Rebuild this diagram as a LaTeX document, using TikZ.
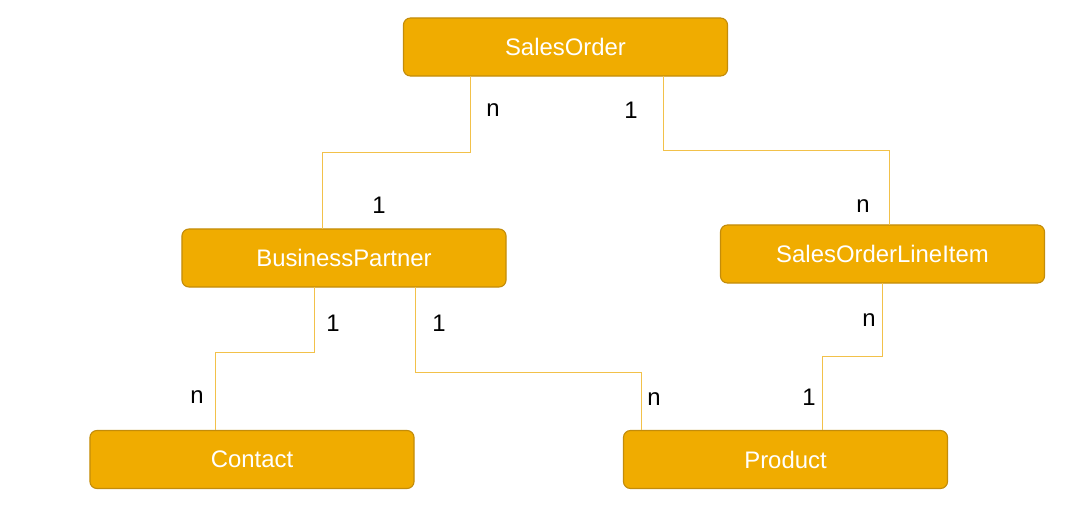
\documentclass[tikz,border=0pt]{standalone}
\usepackage{fontspec}
\setmainfont{Liberation Sans}
\usetikzlibrary{calc}
\definecolor{entityfill}{HTML}{F0AC00}
\definecolor{entityline}{HTML}{C38C0A}
\definecolor{linkline}{HTML}{F2C14A}
\tikzset{
	entity/.style={
		draw=entityline, fill=entityfill, rounded corners=5pt, line width=0.8pt,
		minimum width=8.1cm, minimum height=1.45cm, text=white, font=\fontsize{17}{20}\selectfont
	},
	card/.style={font=\fontsize{17}{20}\selectfont, text=black},
	zig zag to/.style={
		to path={(\tikztostart) |- ($(\tikztostart)!#1!(\tikztotarget)$) -| (\tikztotarget)}
	},
	zig zag to/.default=0.5,
	link/.style={draw=linkline, line width=0.7pt, zig zag to=#1},
	link/.default=0.5
}
\begin{document}
\begin{tikzpicture}[x=0.025cm, y=-0.025cm]
	\useasboundingbox (0,0) rectangle (1084,514);

	\node[entity] (SalesOrder) at (565.5,47) {SalesOrder};
	\node[entity] (BusinessPartner) at (344,258) {BusinessPartner};
	\node[entity] (SalesOrderLineItem) at (882.5,254) {SalesOrderLineItem};
	\node[entity] (Contact) at (252,459.5) {Contact};
	\node[entity] (Product) at (785.5,459.5) {Product};

	% end points on the boxes
	\coordinate (SalesOrder-n) at (470,76);
	\coordinate (SalesOrder-1) at (663,76);
	\coordinate (BusinessPartner-top) at (322,229);
	\coordinate (BusinessPartner-c) at (314,287);
	\coordinate (BusinessPartner-p) at (415,287);
	\coordinate (SalesOrderLineItem-top) at (889,225);
	\coordinate (SalesOrderLineItem-p) at (882,283);
	\coordinate (Contact-top) at (215,430);
	\coordinate (Product-b) at (641,430);
	\coordinate (Product-s) at (822,430);

	\draw [link] (SalesOrder-n) to (BusinessPartner-top);
	\draw [link] (SalesOrder-1) to (SalesOrderLineItem-top);
	\draw [link=0.46] (BusinessPartner-c) to (Contact-top);
	\draw [link=0.6] (BusinessPartner-p) to (Product-b);
	\draw [link] (SalesOrderLineItem-p) to (Product-s);

	\node[card] at (493,110) {n};
	\node[card] at (631,110) {1};
	\node[card] at (379,205) {1};
	\node[card] at (863,206) {n};
	\node[card] at (333,323) {1};
	\node[card] at (439,323) {1};
	\node[card] at (197,397) {n};
	\node[card] at (654,399) {n};
	\node[card] at (869,320) {n};
	\node[card] at (809,397) {1};
\end{tikzpicture}
\end{document}
